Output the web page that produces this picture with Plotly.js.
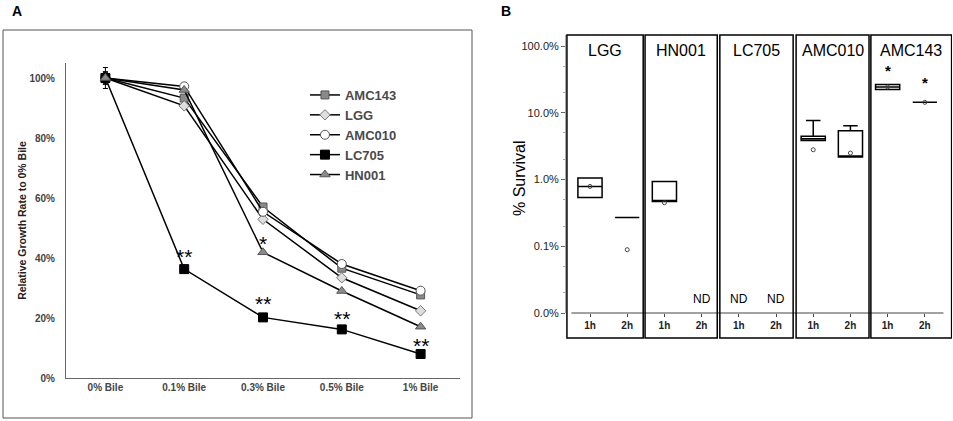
<!DOCTYPE html>
<html>
<head>
<meta charset="utf-8">
<script src="https://cdn.plot.ly/plotly-3.0.1.min.js"></script>
<style>
  body { margin: 0; background: #fff; }
  #graph { width: 953px; height: 421px; }
</style>
</head>
<body>
<div id="graph"></div>
<script>
// ---- panel A: relative growth rate vs bile ----
var bileLevels = ['0% Bile', '0.1% Bile', '0.3% Bile', '0.5% Bile', '1% Bile'];
var amc143 = [1.00, 0.933, 0.570, 0.366, 0.277];
var lgg    = [1.00, 0.907, 0.529, 0.334, 0.224];
var amc010 = [1.00, 0.972, 0.554, 0.380, 0.291];
var lc705  = [1.00, 0.363, 0.202, 0.162, 0.080];
var hn001  = [1.00, 0.960, 0.419, 0.290, 0.171];
var errAtZero = [0.02, 0.015, 0.02, 0.035, 0.02];   // sd at 0% bile per strain

// significance marks in panel A
var sigText = ['**', '*', '**', '**', '**'];
var sigCat  = ['0.1% Bile', '0.3% Bile', '0.3% Bile', '0.5% Bile', '1% Bile'];
var sigY    = [0.404, 0.450, 0.247, 0.197, 0.108];

// ---- panel B: % survival after 1h / 2h ----
var strains = ['LGG', 'HN001', 'LC705', 'AMC010', 'AMC143'];
var times = ['1h', '2h'];
// one entry per strain/time, null = not detected
var boxQ1     = [0.54, 0.27, 0.47, null, null, null, 3.85, 2.19, 22.4, 14.4];
var boxMedian = [0.79, 0.27, 0.47, null, null, null, 4.10, 2.19, 24.5, 14.4];
var boxQ3     = [1.06, 0.27, 0.94, null, null, null, 4.47, 5.40, 26.6, 14.4];
var boxLow    = [0.54, 0.27, 0.47, null, null, null, 3.85, 2.19, 22.4, 14.4];
var boxHigh   = [1.06, 0.27, 0.94, null, null, null, 7.70, 6.40, 26.6, 14.4];
var boxMean   = [0.79, 0.089, 0.45, null, null, null, 2.80, 2.50, 24.5, 14.4];
var ndMarks   = [3, 4, 5];            // not detected slots
var starSlots = [8, 9];
var starY     = [43.5, 29.0];

var FONT = 'Liberation Sans, Arial, sans-serif';

function seriesTrace(name, y, sym, fill, edge, size, err) {
    var e = y.map(function (v, i) { return i === 0 ? err : 0; });
    return {
        x: bileLevels, y: y, name: name,
        type: 'scatter', mode: 'lines+markers',
        xaxis: 'x', yaxis: 'y',
        line: { color: '#000', width: 1.5 },
        marker: { symbol: sym, color: fill, size: size, line: { color: edge, width: 1 } },
        error_y: { type: 'data', array: e, visible: true, color: '#000', thickness: 1, width: 2.5 }
    };
}

var data = [
    seriesTrace('AMC143', amc143, 'square', '#8a8a8a', '#555', 8, errAtZero[0]),
    seriesTrace('LGG', lgg, 'diamond', '#dedede', '#777', 8, errAtZero[1]),
    seriesTrace('AMC010', amc010, 'circle', '#fff', '#555', 9, errAtZero[2]),
    seriesTrace('LC705', lc705, 'square', '#000', '#000', 9, errAtZero[3]),
    seriesTrace('HN001', hn001, 'triangle-up', '#8a8a8a', '#555', 9, errAtZero[4])
];

// boxes for panel B
var bx = [], q1 = [], med = [], q3 = [], lo = [], hi = [], mx = [], my = [];
for (var i = 0; i < boxQ1.length; i++) {
    if (boxQ1[i] === null) continue;
    bx.push(i); q1.push(boxQ1[i]); med.push(boxMedian[i]); q3.push(boxQ3[i]);
    lo.push(boxLow[i]); hi.push(boxHigh[i]);
    mx.push(i); my.push(boxMean[i]);
}
data.push({
    type: 'box', x: bx, q1: q1, median: med, q3: q3, lowerfence: lo, upperfence: hi,
    xaxis: 'x2', yaxis: 'y2', showlegend: false, width: 0.65, whiskerwidth: 0.6,
    fillcolor: '#fff', line: { color: '#000', width: 1.5 }, hoverinfo: 'skip'
});
data.push({
    type: 'scatter', mode: 'markers', x: mx, y: my,
    xaxis: 'x2', yaxis: 'y2', showlegend: false,
    marker: { symbol: 'circle-open', size: 4, color: '#444', line: { width: 1 } }
});

var tickVals = [], tickText = [];
for (var s = 0; s < strains.length; s++) {
    for (var t = 0; t < times.length; t++) {
        tickVals.push(s * 2 + t);
        tickText.push(times[t]);
    }
}

// facet frames, in x2 units
var facetBounds = [[-0.62, 1.43], [1.48, 3.42], [3.49, 5.46], [5.54, 7.50], [7.55, 9.72]];
var frameTop = 1 - 35 / 421, frameBottom = 1 - 338 / 421;

var shapes = [{
    type: 'rect', xref: 'paper', yref: 'paper',
    x0: 3 / 953, x1: 472 / 953, y0: 3 / 421, y1: 1 - 30 / 421,
    line: { color: '#555', width: 1 }
}, {
    type: 'line', xref: 'x2', yref: 'y2 domain',
    x0: -0.5, x1: 9.5, y0: 0, y1: 0,
    line: { color: '#444', width: 1 }
}];
var annotations = [
    { text: '<b>A</b>', xref: 'paper', yref: 'paper', x: 10 / 953, y: 1 - 11 / 421, yanchor: 'middle', showarrow: false, font: { size: 14, family: FONT, color: '#000' } },
    { text: '<b>B</b>', xref: 'paper', yref: 'paper', x: 506 / 953, y: 1 - 11 / 421, yanchor: 'middle', showarrow: false, font: { size: 14, family: FONT, color: '#000' } },
    { text: '% Survival', xref: 'paper', yref: 'paper', x: 519 / 953, y: 1 - 178 / 421,
      xanchor: 'center', yanchor: 'middle', textangle: -90, showarrow: false,
      font: { size: 16, family: FONT, color: '#000' } }
];
for (var f = 0; f < strains.length; f++) {
    shapes.push({
        type: 'rect', xref: 'x2', yref: 'paper',
        x0: facetBounds[f][0], x1: facetBounds[f][1], y0: frameBottom, y1: frameTop,
        line: { color: '#000', width: 1.5 }
    });
    annotations.push({
        text: strains[f], xref: 'x2', yref: 'paper',
        x: (facetBounds[f][0] + facetBounds[f][1]) / 2, y: 1 - 51 / 421, yanchor: 'middle',
        showarrow: false, font: { size: 16, family: FONT, color: '#000' }
    });
}
for (var n = 0; n < ndMarks.length; n++) {
    annotations.push({
        text: 'ND', xref: 'x2', yref: 'y2', x: ndMarks[n], y: Math.log10(0.016),
        showarrow: false, font: { size: 12, family: FONT, color: '#000' }
    });
}
for (var k = 0; k < starSlots.length; k++) {
    annotations.push({
        text: '<b>*</b>', xref: 'x2', yref: 'y2', x: starSlots[k], y: Math.log10(starY[k]),
        showarrow: false, font: { size: 15, family: FONT, color: '#000' }
    });
}
for (var a = 0; a < sigText.length; a++) {
    annotations.push({
        text: sigText[a], xref: 'x', yref: 'y', x: sigCat[a], y: sigY[a],
        showarrow: false, font: { size: 21, family: FONT, color: '#000' }
    });
}

var layout = {
    width: 953, height: 421,
    margin: { l: 0, r: 0, t: 0, b: 0 },
    paper_bgcolor: '#fff', plot_bgcolor: 'rgba(0,0,0,0)',
    font: { family: FONT, color: '#000' },
    showlegend: true,
    legend: {
        x: 0.320, y: 0.81, xanchor: 'left', yanchor: 'top',
        font: { size: 13, family: FONT, color: '#4a4a4a', weight: 'bold' },
        bgcolor: 'rgba(0,0,0,0)', tracegroupgap: 0
    },
    xaxis: {
        domain: [66 / 953, 460 / 953], anchor: 'y', type: 'category',
        range: [-0.5, 4.5], showline: true, linecolor: '#666', linewidth: 1,
        showgrid: false, zeroline: false, ticks: '',
        tickfont: { size: 10, family: FONT, color: '#444', weight: 'bold' }
    },
    yaxis: {
        domain: [1 - 378 / 421, 1 - 63 / 421], anchor: 'x',
        range: [0, 1.05], tickvals: [0, 0.2, 0.4, 0.6, 0.8, 1.0], tickformat: '.0%',
        showline: true, linecolor: '#666', linewidth: 1,
        showgrid: false, zeroline: false, ticks: '', ticklabelstandoff: 8,
        tickfont: { size: 10, family: FONT, color: '#444', weight: 'bold' },
        title: { text: 'Relative Growth Rate to 0% Bile', standoff: 0,
                 font: { size: 10.5, family: FONT, color: '#222', weight: 'bold' } }
    },
    xaxis2: {
        domain: [566 / 953, 952 / 953], anchor: 'y2',
        range: [-0.645, 9.73], tickvals: tickVals, ticktext: tickText,
        showline: false, showgrid: false, zeroline: false,
        ticks: 'outside', ticklen: 3, tickcolor: '#444',
        tickfont: { size: 10, family: FONT, color: '#222', weight: 'bold' }
    },
    yaxis2: {
        domain: [1 - 313 / 421, 1 - 35 / 421], anchor: 'x2', type: 'log',
        range: [-2, 2.168],
        tickvals: [0.01, 0.1, 1, 10, 100], ticktext: ['0.0%', '0.1%', '1.0%', '10.0%', '100.0%'],
        showline: true, linecolor: '#aaa', linewidth: 1,
        showgrid: false, zeroline: false,
        ticks: 'outside', ticklen: 4, tickcolor: '#666',
        minor: { ticks: 'outside', ticklen: 2, tickcolor: '#aaa', dtick: 'D2' },
        tickfont: { size: 11, family: FONT, color: '#222' }
    },
    shapes: shapes,
    annotations: annotations
};

Plotly.newPlot('graph', data, layout, { displayModeBar: false, staticPlot: true });
</script>
</body>
</html>
